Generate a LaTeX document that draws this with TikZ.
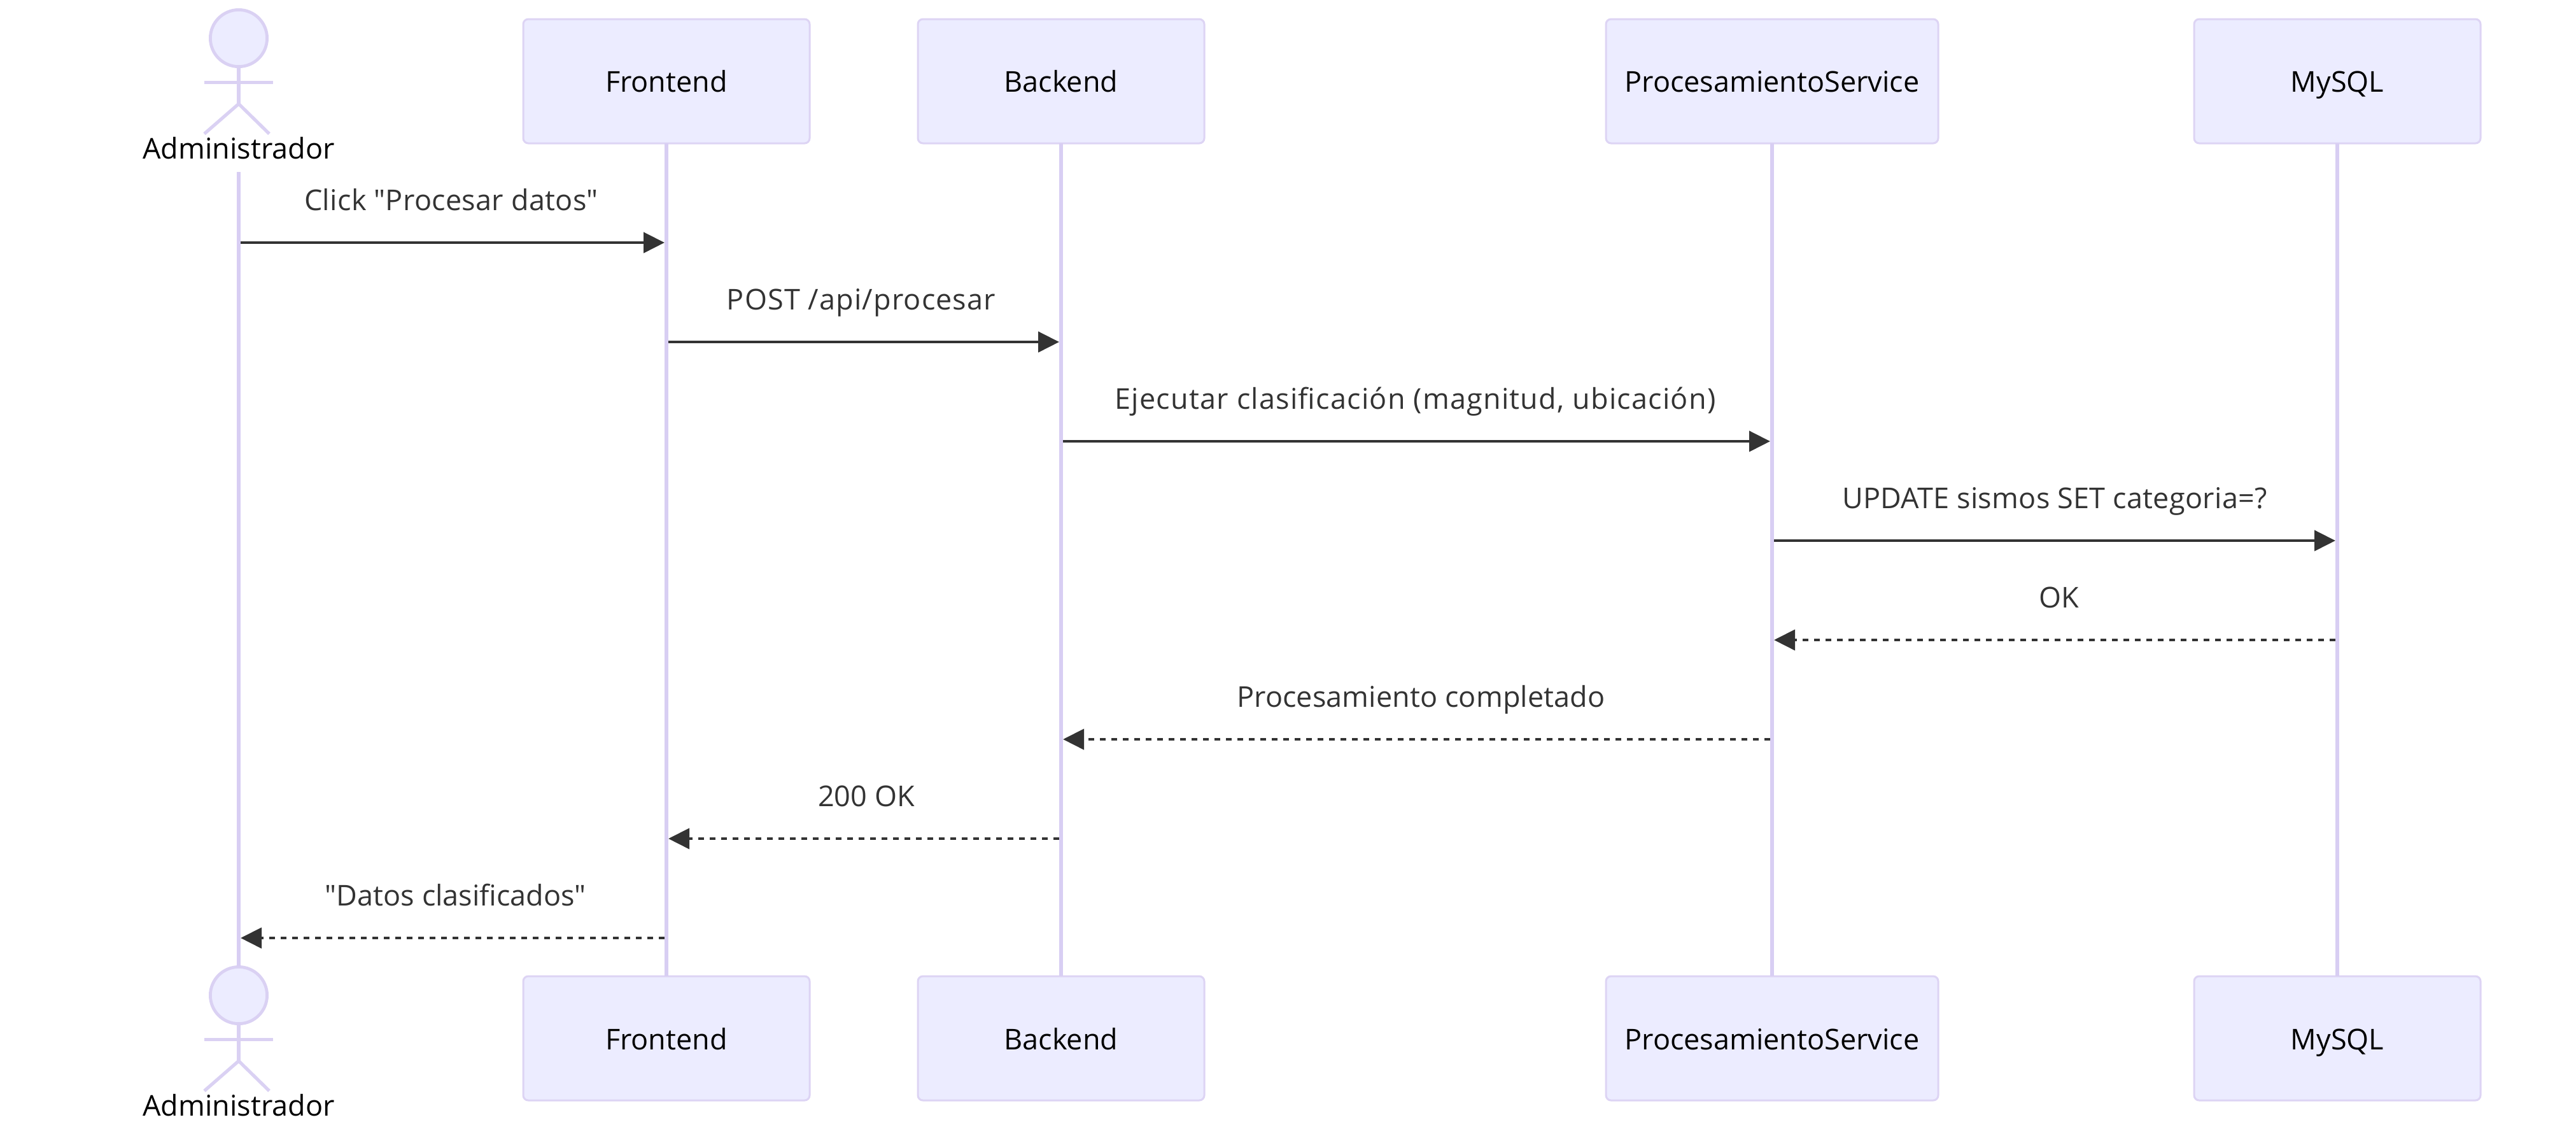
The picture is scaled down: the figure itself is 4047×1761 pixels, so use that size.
\documentclass[tikz,border=0pt]{standalone}
\usepackage{fontspec}
\setmainfont{Open Sans}
\usetikzlibrary{arrows.meta,calc}
\definecolor{lifec}{HTML}{D8CEF3}
\definecolor{edgec}{HTML}{DDD4F4}
\definecolor{limbc}{HTML}{DAD1F3}
\definecolor{boxc}{HTML}{ECECFF}
\definecolor{inkc}{HTML}{333333}
\def\fs{\fontsize{11.25pt}{13pt}\selectfont}
\tikzset{
  x=0.25pt,y=-0.25pt,
  lifeline/.style={draw=lifec,line width=1.5pt},
  box/.style={draw=edgec,fill=boxc,line width=0.75pt,rounded corners=2pt,minimum width=112.5pt,minimum height=48.75pt,inner sep=0pt,outer sep=0pt,anchor=north},
  boxwide/.style={box,minimum width=130.5pt},
  boxlabel/.style={anchor=base,inner sep=0pt,text=black,font=\fs},
  head/.style={circle,draw=limbc,fill=boxc,line width=1.2pt,minimum size=22.3pt,inner sep=0pt,outer sep=0pt},
  limb/.style={draw=limbc,line width=1.3pt},
  msglabel/.style={anchor=base,inner sep=0pt,text=inkc,font=\fs},
  msg/.style={draw=inkc,line width=1.2pt,-{Triangle[length=8.25pt,width=8pt,fill=inkc]}},
  reply/.style={msg,dash pattern=on 2.25pt off 2.25pt},
}
\newcommand{\actorfig}[3]{% name, head centre y, label baseline y
  \node[head] (#1head) at (375,#2) {};
  \draw[limb] (#1head.south) -- ++(0,58.5) coordinate (#1hip);
  \draw[limb] ([shift={(-54,24.5)}]#1head.south) -- ([shift={(54,24.5)}]#1head.south);
  \draw[limb] (#1hip) -- ++(-54,47);
  \draw[limb] (#1hip) -- ++(48,47);
  \node[boxlabel] (#1label) at (375,#3) {Administrador};
}
\begin{document}
\begin{tikzpicture}
\useasboundingbox (0,0) rectangle (4047,1761);
% participants, top
\node[box] (ft) at (1047,30) {};
\node[box] (bt) at (1667,30) {};
\node[boxwide] (pt) at (2784,30) {};
\node[box] (mt) at (3672,30) {};
% participants, bottom
\node[box] (fb) at (1047,1533) {};
\node[box] (bb) at (1667,1533) {};
\node[boxwide] (pb) at (2784,1533) {};
\node[box] (mb) at (3672,1533) {};
\actorfig{at}{60}{249}
\actorfig{ab}{1563}{1752}
\coordinate (alife) at (375,270);
% lifelines
\draw[lifeline] (alife) -- (abhead.north);
\draw[lifeline] (ft.south) -- (fb.north);
\draw[lifeline] (bt.south) -- (bb.north);
\draw[lifeline] (pt.south) -- (pb.north);
\draw[lifeline] (mt.south) -- (mb.north);
% participant labels
\foreach \nn/\tx in {ft/Frontend,bt/Backend,pt/ProcesamientoService,mt/MySQL}{
  \node[boxlabel] at ([yshift=-28.5pt]\nn.north) {\tx};
}
\foreach \nn/\tx in {fb/Frontend,bb/Backend,pb/ProcesamientoService,mb/MySQL}{
  \node[boxlabel] at ([yshift=-28.75pt]\nn.north) {\tx};
}
% messages
\foreach \sty/\src/\dst/\dx/\yy/\ls/\off/\tx in {
  msg/alife/ft/1/381/0.7/-2/{Click \textquotedbl Procesar datos\textquotedbl},
  msg/ft/bt/1/537/2.5/-4/{POST /api/procesar},
  msg/bt/pt/1/693/2.7/-2/{Ejecutar clasificación (magnitud, ubicación)},
  msg/pt/mt/1/849/0.6/0/{UPDATE sismos SET categoria=?},
  reply/mt/pt/-1/1005/0/7/{OK},
  reply/pt/bt/-1/1161/0.2/7/{Procesamiento completado},
  reply/bt/ft/-1/1317/0/4/{200 OK},
  reply/ft/alife/-1/1473/0/5/{\textquotedbl Datos clasificados\textquotedbl}}{
  \coordinate (my) at (0,\yy);
  \coordinate (ms) at (\src |- my);
  \coordinate (me) at (\dst |- my);
  \draw[\sty] ([xshift=\dx*0.75pt]ms) -- ([xshift=-\dx*0.75pt]me);
  \node[msglabel] at ($(ms)!0.5!(me)+(\off,-50.5)$) {\addfontfeature{LetterSpace=\ls}\tx};
}
\end{tikzpicture}
\end{document}
